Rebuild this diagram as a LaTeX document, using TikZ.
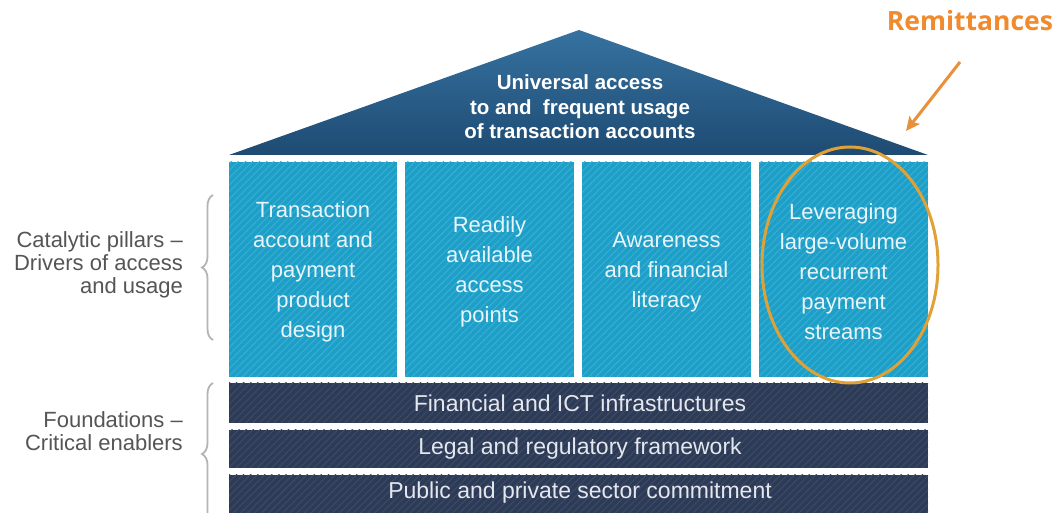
\documentclass[tikz,border=0pt]{standalone}
\usepackage{fontspec}
\setmainfont{Liberation Sans}
\newfontfamily\remfont{Open Sans}
\usetikzlibrary{patterns.meta,decorations.pathreplacing,arrows.meta,shapes.geometric}
\definecolor{pillarC}{HTML}{1E9FC7}
\definecolor{pillarS}{HTML}{3AB0D6}
\definecolor{barC}{HTML}{2D3B56}
\definecolor{barS}{HTML}{3D4C68}
\definecolor{roofT}{HTML}{3672A0}
\definecolor{roofB}{HTML}{1E4B73}
\definecolor{labelC}{HTML}{555555}
\definecolor{braceC}{HTML}{B4B4B4}
\definecolor{remC}{HTML}{F08A2C}
\definecolor{arrC}{HTML}{E8913A}
\definecolor{ellC}{HTML}{E0A236}
\definecolor{pTextC}{HTML}{E8F5FA}
\definecolor{bTextC}{HTML}{E4E7EE}
\tikzset{
  pillarstripes/.style={pattern={Lines[angle=45,distance=5pt,line width=0.9pt]},pattern color=pillarS},
  barstripes/.style={pattern={Lines[angle=45,distance=5pt,line width=0.9pt]},pattern color=barS},
  pillartext/.style={text=pTextC,align=center,font=\fontsize{22}{30}\selectfont,inner sep=0pt},
  bartext/.style={text=bTextC,align=center,font=\fontsize{23}{26}\selectfont,inner sep=0pt},
  rooftext/.style={text=white,align=center,font=\bfseries\fontsize{20.5}{24.5}\selectfont,inner sep=0pt},
  sidelabel/.style={text=labelC,align=right,anchor=east,font=\fontsize{22}{23}\selectfont,inner sep=0pt},
  sidebrace/.style={draw=braceC,line width=1.8pt,decorate,decoration={brace,amplitude=11pt}},
}
\begin{document}
\begin{tikzpicture}[x=1pt,y=1pt]
\useasboundingbox (0,0) rectangle (1059,513);
\clip (0,0) rectangle (1059,513);
\fill[white] (0,0) rectangle (1059,513);
% roof
\shade[top color=roofT,bottom color=roofB] (229,358) -- (579,483) -- (928,358) -- cycle;
\node[rooftext] (roof) at (580,406) {Universal access\\to and\ \ frequent usage\\of transaction accounts};
% pillars
\foreach \xa/\xb/\nm in {229/397/p1,405/574/p2,582/751/p3,759/928/p4}{
  \fill[pillarC] (\xa,136) rectangle (\xb,351);
  \fill[pillarstripes] (\xa,136) rectangle (\xb,351);
}
\node[pillartext] (t1) at (313,241) {Transaction\\account and\\payment\\product\\design};
\node[pillartext] (t2) at (489.5,241) {Readily\\available\\access\\points};
\node[pillartext] (t3) at (666.5,241) {Awareness\\and financial\\literacy};
\node[pillartext] (t4) at (843.5,241) {Leveraging\\large-volume\\recurrent\\payment\\streams};
% bars
\foreach \ya/\yb in {90/130,45/83,-7/38}{
  \fill[barC] (229,\ya) rectangle (928,\yb);
  \fill[barstripes] (229,\ya) rectangle (928,\yb);
}
\node[bartext] (b1) at (580,110) {Financial and ICT infrastructures};
\node[bartext] (b2) at (580,64) {Legal and regulatory framework};
\node[bartext] (b3) at (580,20) {Public and private sector commitment};
% side labels and braces
\node[sidelabel] (lab1) at (183,248) {Catalytic pillars --\\Drivers of access\\and usage};
\node[sidelabel] (lab2) at (183,82) {Foundations --\\Critical enablers};
\coordinate (br1a) at (213,173);
\coordinate (br1b) at (213,318);
\coordinate (br2a) at (213,-12);
\coordinate (br2b) at (213,130);
\draw[sidebrace] (br1a) -- (br1b);
\draw[sidebrace] (br2a) -- (br2b);
% highlight ellipse
\node[draw=ellC,line width=3pt,ellipse,minimum width=176pt,minimum height=236pt,inner sep=0pt] (ell) at (850,248) {};
% remittances
\node[text=remC,font=\remfont\bfseries\fontsize{26.5}{30}\selectfont,inner sep=0pt] (rem) at (970,492) {Remittances};
\coordinate (arrS) at (960,451);
\coordinate (arrT) at (906,382);
\draw[arrC,line width=3pt,-{Stealth[length=14pt,width=13pt,inset=3pt]}] (arrS) -- (arrT);
\end{tikzpicture}
\end{document}
